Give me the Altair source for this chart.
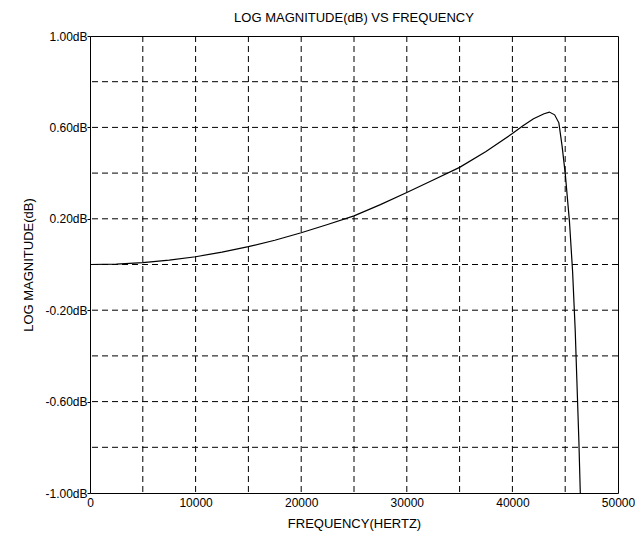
import altair as alt
import pandas as pd

# Curve values
freq = [0, 2500, 5000, 7500, 10000, 12500, 15000, 17500, 20000, 22500, 25000,
        27500, 30000, 32500, 35000, 37500, 40000, 41000, 42000, 43000, 43500,
        44000, 44400, 44700, 45000, 45400, 45700, 45950, 46100, 46300, 46430]
mag = [0.0, 0.002, 0.008, 0.019, 0.034, 0.054, 0.078, 0.106, 0.139, 0.175, 0.213,
       0.262, 0.315, 0.37, 0.425, 0.495, 0.573, 0.607, 0.638, 0.66, 0.667,
       0.655, 0.62, 0.52, 0.40, 0.19, -0.03, -0.29, -0.5, -0.78, -1.0]

x_ticks = [0, 10000, 20000, 30000, 40000, 50000]
y_ticks = [-1.0, -0.6, -0.2, 0.2, 0.6, 1.0]
x_grid = [5000, 10000, 15000, 20000, 25000, 30000, 35000, 40000, 45000]
y_grid = [-0.8, -0.6, -0.4, -0.2, 0.0, 0.2, 0.4, 0.6, 0.8]

FONT = "Liberation Sans"

xs = alt.Scale(domain=[0, 50000], nice=False, zero=False)
ys = alt.Scale(domain=[-1, 1], nice=False, zero=False)

xaxis = alt.Axis(values=x_ticks, format="d", title="FREQUENCY(HERTZ)", grid=False,
                 ticks=False, domain=False, labelFont=FONT, titleFont=FONT,
                 labelFontSize=12, titleFontSize=13, titleFontWeight="normal",
                 labelColor="black", titleColor="black", labelPadding=4,
                 titlePadding=9, labelFlush=False)
yaxis = alt.Axis(values=y_ticks,
                 labelExpr="(datum.value < 0 ? '-' : '') + format(abs(datum.value), '.2f') + 'dB'",
                 title="LOG MAGNITUDE(dB)", grid=False, ticks=True, tickSize=3,
                 tickColor="black", domain=False, labelFont=FONT, titleFont=FONT,
                 labelFontSize=12, titleFontSize=13, titleFontWeight="normal",
                 labelColor="black", titleColor="black", labelPadding=0,
                 titlePadding=9, labelFlush=False)

df = pd.DataFrame({"freq": freq, "mag": mag})

vgrid = alt.Chart(pd.DataFrame({"freq": x_grid})).mark_rule(
    color="black", strokeDash=[6, 4], strokeWidth=1
).encode(x=alt.X("freq:Q", scale=xs, axis=xaxis))

hgrid = alt.Chart(pd.DataFrame({"mag": y_grid})).mark_rule(
    color="black", strokeDash=[6, 4], strokeWidth=1
).encode(y=alt.Y("mag:Q", scale=ys, axis=yaxis))

curve = alt.Chart(df).mark_line(color="black", strokeWidth=1.2, clip=True).encode(
    x=alt.X("freq:Q", scale=xs, axis=xaxis),
    y=alt.Y("mag:Q", scale=ys, axis=yaxis),
    order="freq:Q",
)

chart = alt.layer(hgrid, vgrid, curve).properties(
    width=528,
    height=457,
    padding={"left": 82, "top": 28, "right": 17, "bottom": 39},
    autosize=alt.AutoSizeParams(type="none"),
    background="white",
    title=alt.TitleParams("LOG MAGNITUDE(dB) VS FREQUENCY", font=FONT, fontSize=13,
                          fontWeight="normal", color="black", anchor="middle",
                          offset=5),
).configure_view(stroke="black", strokeWidth=1)

chart.save("out.html", embed_options={"renderer": "svg", "actions": False})
